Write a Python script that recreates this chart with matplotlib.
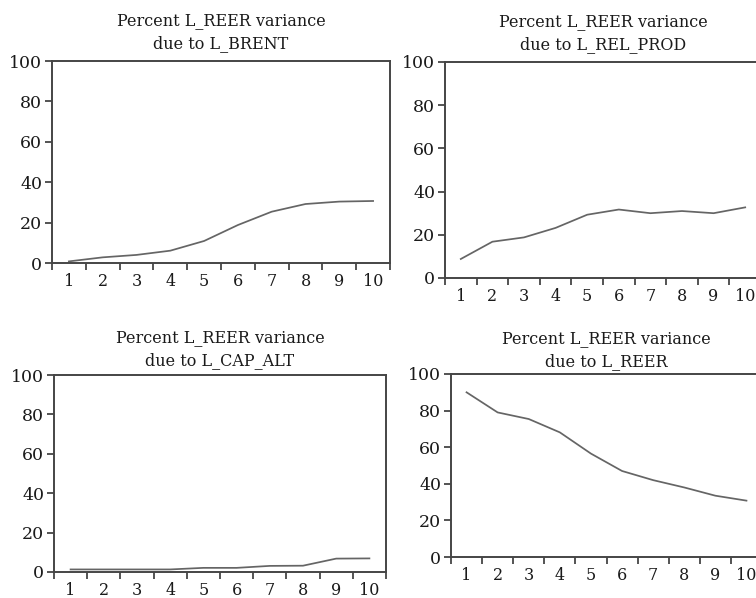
import numpy as np
import matplotlib
matplotlib.use("Agg")
from matplotlib import pyplot as plt

# forecast horizon
periods = np.arange(1, 11)

# variance decomposition of L_REER (percent)
brent = [0.8, 2.8, 4.0, 6.1, 10.9, 18.8, 25.4, 29.2, 30.4, 30.7]
rel_prod = [8.8, 16.8, 18.8, 23.2, 29.3, 31.7, 30.0, 31.0, 30.0, 32.7]
cap_alt = [1.3, 1.3, 1.3, 1.3, 2.1, 2.1, 3.1, 3.2, 6.8, 6.9]
reer = [90.0, 79.0, 75.4, 68.1, 56.5, 47.0, 42.0, 38.0, 33.5, 30.8]

titles = ['Percent L_REER variance\ndue to L_BRENT',
          'Percent L_REER variance\ndue to L_REL_PROD',
          'Percent L_REER variance\ndue to L_CAP_ALT',
          'Percent L_REER variance\ndue to L_REER']
series = [brent, rel_prod, cap_alt, reer]
yticks = [0, 20, 40, 60, 80, 100]

W, H = 756, 598
# panel boxes in pixels: left, right, top, bottom
boxes = [(52, 390, 61, 263),
         (445, 761, 62, 278),
         (54, 386, 375, 572),
         (451, 762, 374, 557)]
title_pads = [9.5, 9.5, 7, 5.5]

plt.rcParams['font.family'] = 'DejaVu Serif'
fig = plt.figure(figsize=(W / 100, H / 100), dpi=100)
fig.patch.set_facecolor('white')

spine_col = '#454545'
text_col = '#1a1a1a'

for (l, r, t, b), vals, title, tp in zip(boxes, series, titles, title_pads):
    ax = fig.add_axes([l / W, 1 - b / H, (r - l) / W, (b - t) / H])
    ax.plot(periods, vals, color='#656565', lw=1.25)
    ax.set_xlim(0.5, 10.5)
    ax.set_ylim(0, 100)
    ax.set_yticks(yticks)
    ax.set_xticks(periods)
    ax.set_xticks(np.arange(0.5, 11, 1), minor=True)
    ax.tick_params(axis='x', which='major', length=0, pad=7,
                   labelsize=11.5, labelcolor=text_col)
    ax.tick_params(axis='x', which='minor', length=5, width=1.3,
                   direction='out', color=spine_col)
    ax.tick_params(axis='y', length=5, width=1.3, direction='out',
                   color=spine_col, pad=2, labelsize=12.5,
                   labelcolor=text_col)
    for s in ax.spines.values():
        s.set_color(spine_col)
        s.set_linewidth(1.4)
    ax.set_title(title, fontsize=11.5, color=text_col, pad=tp,
                 linespacing=1.45)

fig.savefig('out.png', dpi=100, facecolor='white')
